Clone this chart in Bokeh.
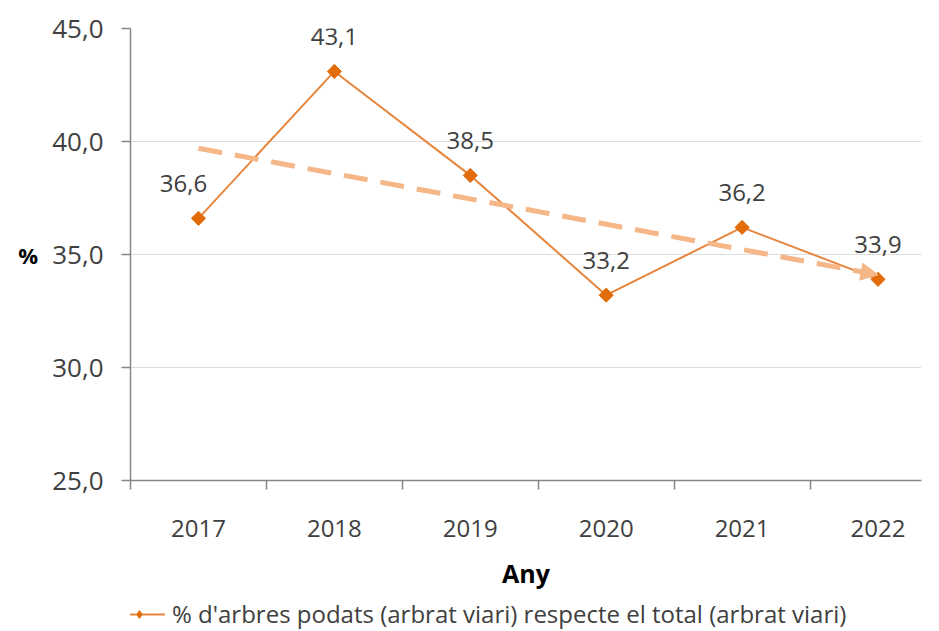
import math
from bokeh.plotting import figure
from bokeh.layouts import column
from bokeh.models import (ColumnDataSource, FixedTicker, LabelSet, Arrow, NormalHead,
                          Legend, LegendItem, Range1d)
from bokeh.core.properties import value
from bokeh.embed import file_html
from bokeh.resources import INLINE

years = ["2017", "2018", "2019", "2020", "2021", "2022"]
values = [36.6, 43.1, 38.5, 33.2, 36.2, 33.9]
value_labels = ["36,6", "43,1", "38,5", "33,2", "36,2", "33,9"]
trend_values = [39.7, 34.1]  # trend line read at 2017 and 2022
y_ticks = [25, 30, 35, 40, 45]
y_tick_labels = ["25,0", "30,0", "35,0", "40,0", "45,0"]
series_name = "% d'arbres podats (arbrat viari) respecte el total (arbrat viari)"

FONT = "Open Sans"
TXT = "#404040"
MAIN = "#E8853D"
MARK = "#E26B0A"
TREND = "#F5B688"
AXIS = "#868686"

xs = list(range(len(years)))
label_dx = [-15, 0, 0, 0, 0, 0]
src = ColumnDataSource(dict(x=xs, y=values, lab=value_labels, dx=label_dx))

W = 923
LEFT = 130
p = figure(width=W, height=592, output_backend="svg", toolbar_location=None,
           x_range=Range1d(-0.5, len(years) - 0.68), y_range=Range1d(25, 45),
           min_border_left=LEFT, min_border_top=28, min_border_bottom=104,
           min_border_right=2)
p.outline_line_color = None
p.background_fill_color = "white"
p.border_fill_color = "white"

# grid
p.xgrid.grid_line_color = None
p.ygrid.ticker = FixedTicker(ticks=y_ticks)
p.ygrid.grid_line_color = "#DEDEDE"
p.ygrid.grid_line_width = 1

# y axis
p.yaxis.ticker = FixedTicker(ticks=y_ticks)
p.yaxis.major_label_overrides = {t: l for t, l in zip(y_ticks, y_tick_labels)}
p.yaxis.axis_line_color = AXIS
p.yaxis.axis_line_width = 1.5
p.yaxis.major_tick_line_color = AXIS
p.yaxis.major_tick_line_width = 1.5
p.yaxis.major_tick_out = 9
p.yaxis.major_tick_in = 0
p.yaxis.minor_tick_line_color = None
p.yaxis.major_label_text_font = FONT
p.yaxis.major_label_text_font_size = "26px"
p.yaxis.major_label_text_color = TXT
p.yaxis.major_label_standoff = 18
p.yaxis.axis_label = "%"
p.yaxis.axis_label_orientation = "horizontal"
p.yaxis.axis_label_text_font = FONT
p.yaxis.axis_label_text_font_style = "bold"
p.yaxis.axis_label_text_font_size = "22px"
p.yaxis.axis_label_text_color = "#000000"
p.yaxis.axis_label_standoff = 11

# x axis
p.xaxis.ticker = FixedTicker(ticks=xs, minor_ticks=[i - 0.5 for i in range(len(years) + 1)])
p.xaxis.major_label_overrides = {i: y for i, y in enumerate(years)}
p.xaxis.axis_line_color = AXIS
p.xaxis.axis_line_width = 1.5
p.xaxis.major_tick_line_color = None
p.xaxis.major_tick_out = 0
p.xaxis.major_tick_in = 0
p.xaxis.minor_tick_line_color = AXIS
p.xaxis.minor_tick_line_width = 1.5
p.xaxis.minor_tick_out = 9
p.xaxis.minor_tick_in = 0
p.xaxis.major_label_text_font = FONT
p.xaxis.major_label_text_font_size = "24px"
p.xaxis.major_label_text_color = TXT
p.xaxis.major_label_standoff = 30
p.xaxis.axis_label = "Any"
p.xaxis.axis_label_text_font = FONT
p.xaxis.axis_label_text_font_style = "bold"
p.xaxis.axis_label_text_font_size = "25px"
p.xaxis.axis_label_text_color = "#000000"
p.xaxis.axis_label_standoff = 16

# trend arrow
p.add_layout(Arrow(x_start=xs[0], y_start=trend_values[0], x_end=xs[-1], y_end=trend_values[1],
                   line_color=TREND, line_width=5, line_dash="24 13",
                   end=NormalHead(size=17, fill_color=TREND, line_color=TREND)))

# main series
r_line = p.line("x", "y", source=src, line_color=MAIN, line_width=2)
r_mark = p.scatter("x", "y", source=src, marker="square", size=10, angle=math.pi / 4,
                   fill_color=MARK, line_color=MARK)

labels = LabelSet(x="x", y="y", text="lab", source=src, x_offset="dx", y_offset=26,
                  text_align="center", text_baseline="bottom",
                  text_font=value(FONT), text_font_size="24px", text_color=TXT)
p.add_layout(labels)

# legend strip below the chart (its frame is aligned with the chart frame)
lg = figure(width=W, height=38, output_backend="svg", toolbar_location=None,
            x_range=Range1d(0, 1), y_range=Range1d(0, 1),
            min_border_left=LEFT, min_border_right=2, min_border_top=0, min_border_bottom=0)
lg.axis.visible = False
lg.grid.visible = False
lg.outline_line_color = None
lg_line = lg.line("x", "y", source=src, line_color=MAIN, line_width=2)
lg_mark = lg.scatter("x", "y", source=src, marker="diamond", size=14,
                     fill_color=MARK, line_color=MARK)
legend = Legend(items=[LegendItem(label=series_name, renderers=[lg_line, lg_mark])],
                orientation="horizontal", location=(113 - LEFT, 0),
                label_text_font=FONT, label_text_font_size="24px", label_text_color=TXT,
                border_line_color=None, background_fill_alpha=0,
                glyph_width=52, glyph_height=20, padding=0, margin=0, label_standoff=7)
lg.add_layout(legend)

open("out.html", "w").write(file_html(column(p, lg, spacing=0), INLINE))
